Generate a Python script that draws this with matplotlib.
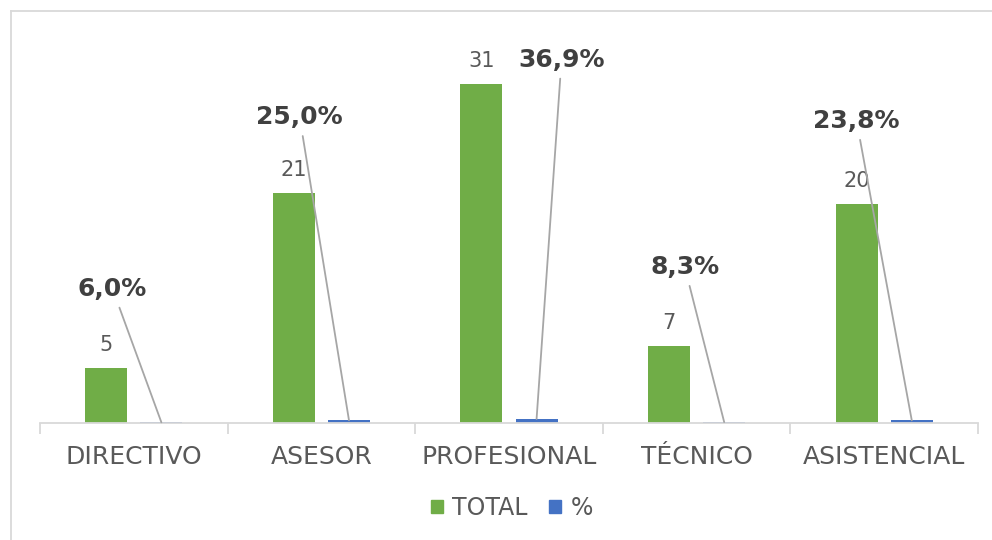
import numpy as np
import matplotlib.pyplot as plt
from matplotlib.lines import Line2D

categories = ["DIRECTIVO", "ASESOR", "PROFESIONAL", "TÉCNICO", "ASISTENCIAL"]
total = [5, 21, 31, 7, 20]
pct = [0.060, 0.250, 0.369, 0.083, 0.238]
pct_labels = ["6,0%", "25,0%", "36,9%", "8,3%", "23,8%"]

# label placement for the % callouts (offset from bar, height in axis units)
label_dx = [-0.26, -0.263, 0.133, -0.21, -0.294]
label_y = [12.25, 27.95, 33.2, 14.25, 27.6]

green = "#70ad47"
blue = "#4472c4"
grey_text = "#595959"
axis_grey = "#d9d9d9"

fig = plt.figure(figsize=(9.92, 5.40), dpi=100)
ax = fig.add_axes([40 / 992, 117 / 540, 938 / 992, 383 / 540])

x = np.arange(len(categories))
w = 0.224
off = 0.147

ax.bar(x - off, total, width=w, color=green, label="TOTAL")
ax.bar(x + off, pct, width=w, color=blue, label="%")

for xi, v in zip(x, total):
    ax.text(xi - off, v + 1.2, str(v), ha="center", va="bottom",
            fontsize=15, color=grey_text)

for xi, p, lab, dx, ly in zip(x, pct, pct_labels, label_dx, label_y):
    ax.annotate(lab, xy=(xi + off, p), xytext=(xi + off + dx, ly),
                ha="center", va="center", fontsize=18, fontweight="bold",
                color="#404040",
                arrowprops=dict(arrowstyle="-", color="#a6a6a6", lw=1.3,
                                shrinkA=3, shrinkB=0))

ax.set_xlim(-0.5, len(categories) - 0.5)
ax.set_ylim(0, 35)
ax.set_yticks([])
ax.set_xticks(x)
ax.set_xticklabels(categories, fontsize=18, color=grey_text)
ax.tick_params(axis="x", which="major", length=0, pad=16)
ax.set_xticks(np.arange(-0.5, len(categories)), minor=True)
ax.tick_params(axis="x", which="minor", length=8, color=axis_grey, width=1.3)

for s in ["top", "right", "left"]:
    ax.spines[s].set_visible(False)
ax.spines["bottom"].set_color(axis_grey)
ax.spines["bottom"].set_linewidth(1.3)

handles = [plt.Rectangle((0, 0), 1, 1, color=green),
           plt.Rectangle((0, 0), 1, 1, color=blue)]
fig.legend(handles, ["TOTAL", "%"], loc="center", bbox_to_anchor=(512 / 992, 1 - 508 / 540),
           ncol=2, frameon=False, fontsize=17, handlelength=0.5, handleheight=0.5,
           handletextpad=0.4, columnspacing=0.9, labelcolor=grey_text)

# chart frame
fig.add_artist(Line2D([11 / 992, 1], [1 - 11 / 540, 1 - 11 / 540], color=axis_grey, lw=1.3))
fig.add_artist(Line2D([11 / 992, 11 / 992], [0, 1 - 11 / 540], color=axis_grey, lw=1.3))

fig.savefig("out.png", dpi=100)
